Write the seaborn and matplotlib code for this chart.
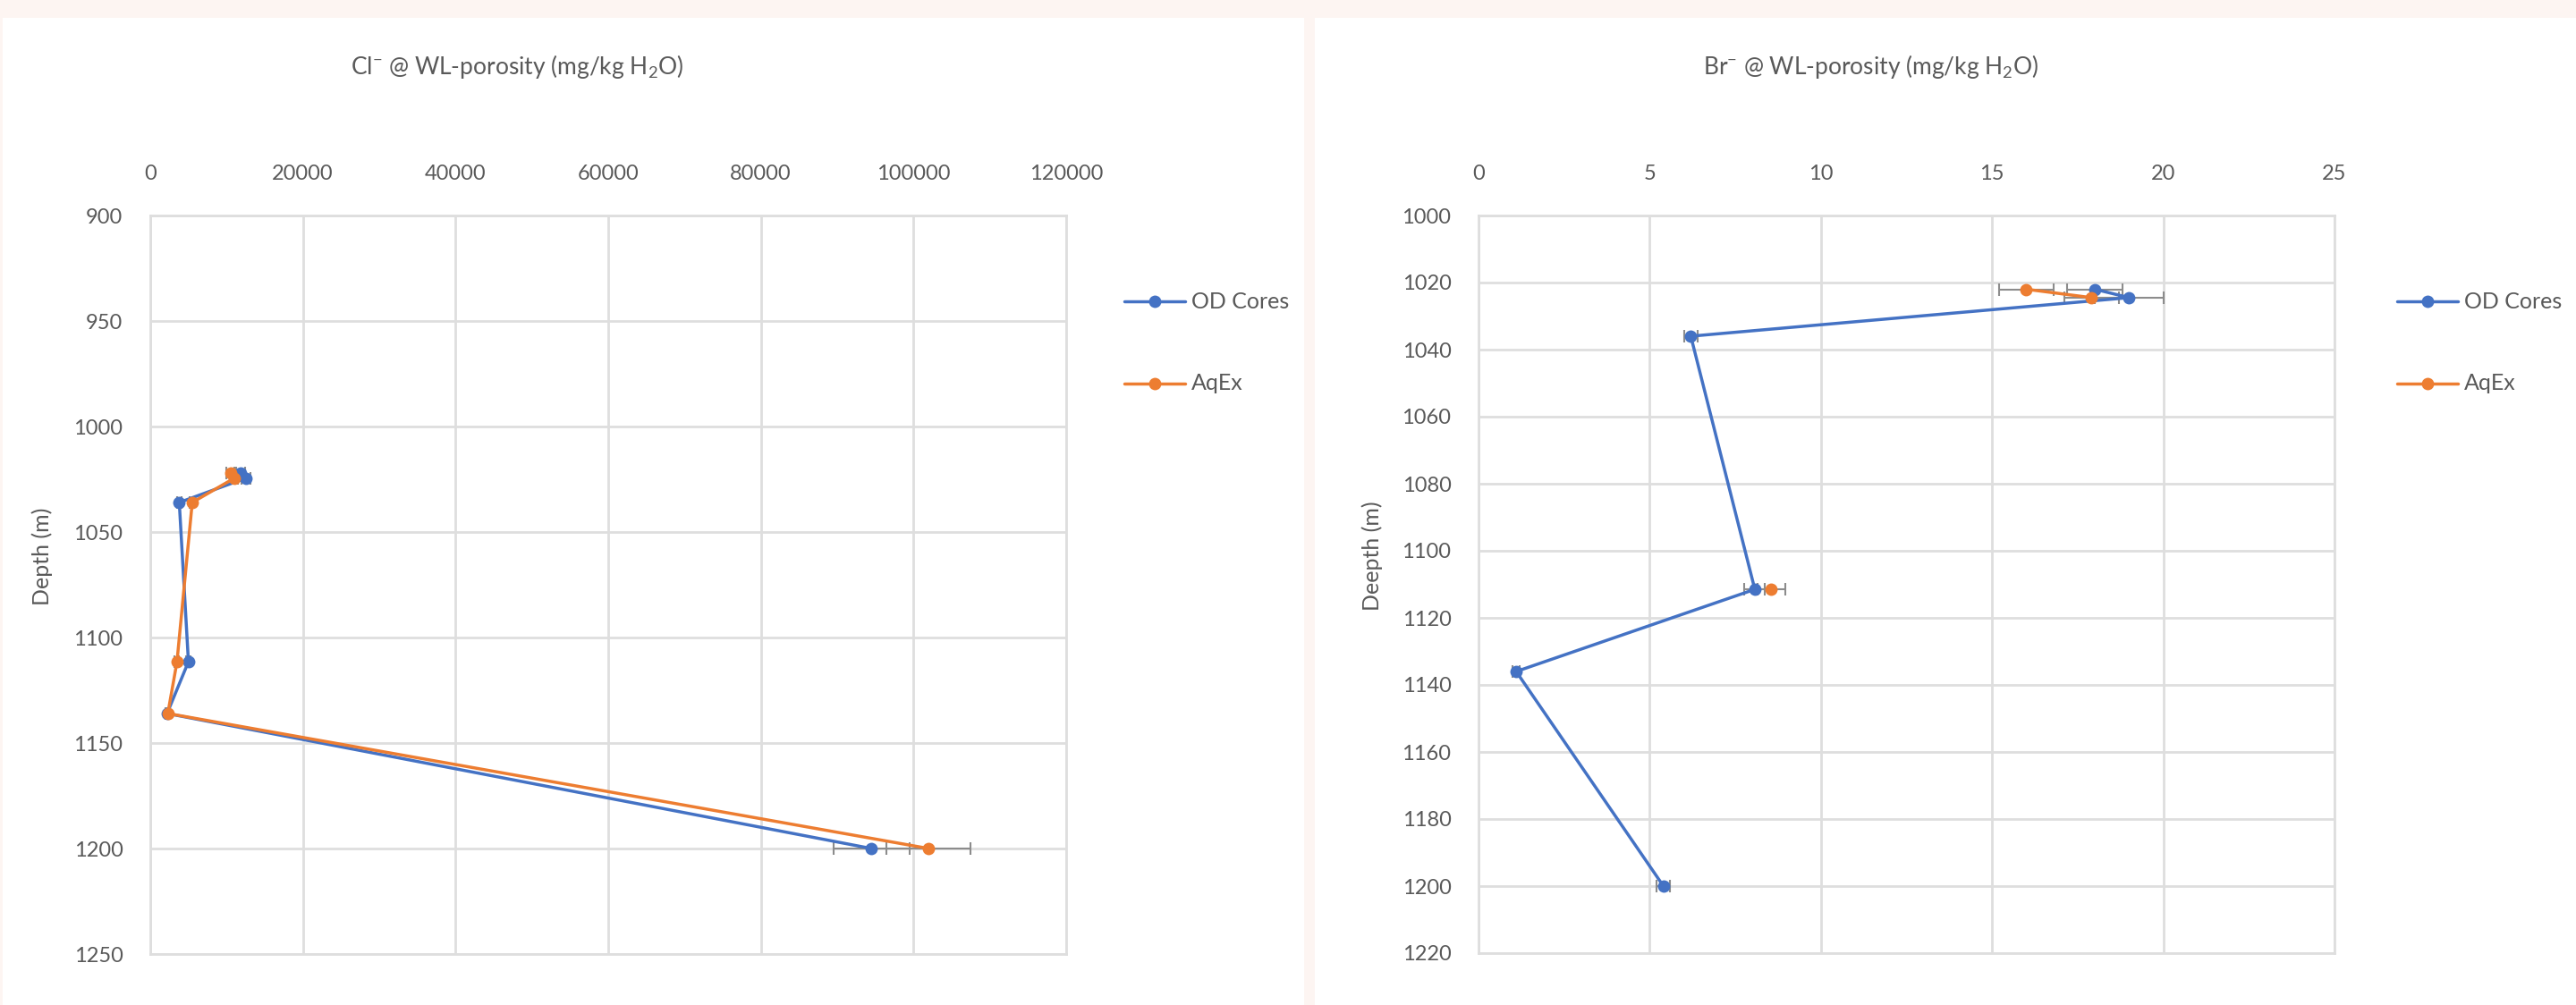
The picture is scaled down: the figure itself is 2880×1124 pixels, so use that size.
import seaborn as sns
import matplotlib.pyplot as plt
import numpy as np
import pandas as pd

# depth of each sample (m)
depth = [1022, 1024.5, 1036, 1111.5, 1136, 1200]

# Cl- (mg/kg H2O)
cl_od = [11800, 12500, 3800, 5000, 2200, 94500]
cl_od_err = [600, 600, 300, 300, 200, 5000]
cl_aq = [10500, 11000, 5500, 3500, 2300, 102000]
cl_aq_err = [500, 500, 300, 300, 200, 5500]

# Br- (mg/kg H2O)
br_od = [18.0, 19.0, 6.2, 8.07, 1.1, 5.4]
br_od_err = [0.8, 1.0, 0.2, 0.3, 0.1, 0.2]
br_aq = [16.0, 17.9, np.nan, 8.55, np.nan, np.nan]
br_aq_err = [0.8, 0.8, np.nan, 0.4, np.nan, np.nan]

series_names = ['OD Cores', 'AqEx']
colors = {'OD Cores': '#4472C4', 'AqEx': '#ED7D31'}
text_grey = '#595959'
grid_grey = '#dedede'


def to_long(values_by_series, errs_by_series):
    rows = []
    for name, vals in values_by_series.items():
        seg = 0
        for d, v, e in zip(depth, vals, errs_by_series[name]):
            if np.isnan(v):
                seg += 1
                continue
            rows.append((name, f'{name}-{seg}', d, v, e))
    return pd.DataFrame(rows, columns=['series', 'seg', 'depth', 'value', 'err'])


def draw(ax, df, xlim, xticks, ylim, yticks, title, ylabel, title_x, ylabel_x, legend_x):
    for name in series_names:
        vals = df[df.series == name]
        ax.errorbar(vals.value, vals.depth, xerr=vals.err, fmt='none',
                    ecolor='#8c8c8c', elinewidth=1.5, capsize=5, capthick=1.5, zorder=2)
    sns.lineplot(data=df, x='value', y='depth', hue='series', units='seg',
                 estimator=None, sort=False, orient='y', palette=colors,
                 hue_order=series_names, marker='o', markersize=10,
                 markeredgewidth=0, linewidth=2.5, ax=ax, zorder=3, legend=False)
    ax.set_xlim(*xlim)
    ax.set_ylim(ylim[1], ylim[0])
    ax.set_xticks(xticks)
    ax.set_yticks(yticks)
    ax.xaxis.tick_top()
    ax.tick_params(axis='x', length=0, pad=26, labelsize=17, labelcolor=text_grey)
    ax.tick_params(axis='y', length=0, pad=22, labelsize=17, labelcolor=text_grey)
    ax.grid(True, color=grid_grey, linewidth=2)
    for s in ax.spines.values():
        s.set_color(grid_grey)
        s.set_linewidth(2)
    ax.set_xlabel('')
    ax.set_ylabel('')
    fig.text(title_x, 1 - 75 / 1124, title, ha='center', va='center',
             fontsize=19, color=text_grey)
    fig.text(ylabel_x, 0.5 - 60 / 1124, ylabel, rotation=90, ha='center', va='center',
             fontsize=18, color=text_grey)
    # legend entries
    for i, name in enumerate(series_names):
        y = 1 - (337 + i * 92) / 1124
        fig.add_artist(plt.Line2D([legend_x, legend_x + 68 / 2880], [y, y],
                                  transform=fig.transFigure, color=colors[name],
                                  linewidth=2.5))
        fig.add_artist(plt.Line2D([legend_x + 34 / 2880], [y], transform=fig.transFigure,
                                  color=colors[name], marker='o', markersize=10,
                                  markeredgewidth=0, linestyle='None'))
        fig.text(legend_x + 75 / 2880, y, name, ha='left', va='center',
                 fontsize=18, color=text_grey)


sns.set_theme(style='white')
plt.rcParams['font.family'] = ['Lato', 'DejaVu Sans']
plt.rcParams['mathtext.fontset'] = 'custom'
plt.rcParams['mathtext.rm'] = 'Lato'
plt.rcParams['mathtext.it'] = 'Lato'

fig = plt.figure(figsize=(28.8, 11.24), dpi=100)
fig.patch.set_facecolor('#fdf5f2')
# white chart panels behind the axes
fig.add_artist(plt.Rectangle((3 / 2880, 0), 1455 / 2880, 1 - 20 / 1124,
                             transform=fig.transFigure, facecolor='white',
                             edgecolor='none', zorder=-5))
fig.add_artist(plt.Rectangle((1470 / 2880, 0), 1410 / 2880, 1 - 20 / 1124,
                             transform=fig.transFigure, facecolor='white',
                             edgecolor='none', zorder=-5))

ax1 = fig.add_axes([168 / 2880, 1 - 1067 / 1124, 1024 / 2880, 826 / 1124])
ax2 = fig.add_axes([1653 / 2880, 1 - 1066 / 1124, 957 / 2880, 825 / 1124])
for ax in (ax1, ax2):
    ax.set_facecolor('white')

cl_df = to_long({'OD Cores': cl_od, 'AqEx': cl_aq},
                {'OD Cores': cl_od_err, 'AqEx': cl_aq_err})
draw(ax1, cl_df, (0, 120000), list(range(0, 120001, 20000)),
     (900, 1250), list(range(900, 1251, 50)),
     r'Cl$^{-}$ @ WL-porosity (mg/kg H$_2$O)', 'Depth (m)',
     578 / 2880, 47 / 2880, 1257 / 2880)

br_df = to_long({'OD Cores': br_od, 'AqEx': br_aq},
                {'OD Cores': br_od_err, 'AqEx': br_aq_err})
draw(ax2, br_df, (0, 25), list(range(0, 26, 5)),
     (1000, 1220), list(range(1000, 1221, 20)),
     r'Br$^{-}$ @ WL-porosity (mg/kg H$_2$O)', 'Deepth (m)',
     2092 / 2880, 1534 / 2880, 2680 / 2880)

fig.savefig('out.png', dpi=100, facecolor=fig.get_facecolor())
